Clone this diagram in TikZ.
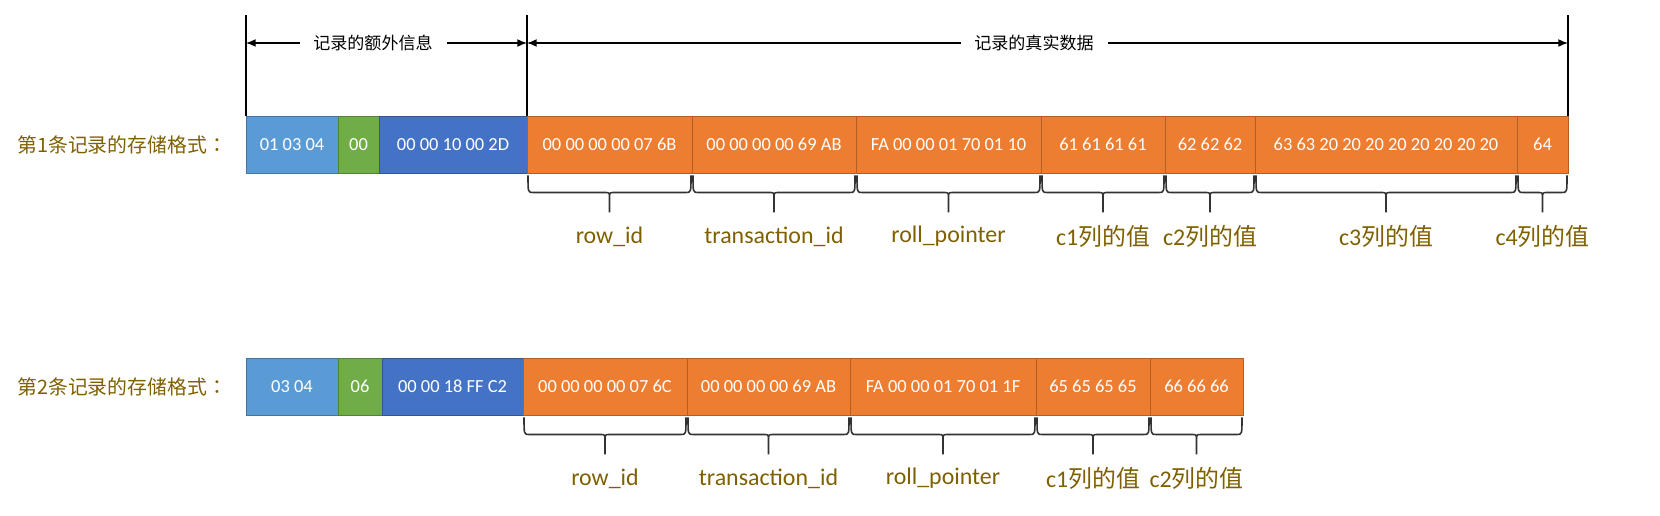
\documentclass[tikz,border=0pt]{standalone}
\usepackage{fontspec}
\setmainfont{Carlito}
\newfontfamily\cjkfont{Noto Sans CJK SC}
\newfontfamily\cjktc{Noto Sans CJK TC}
\usetikzlibrary{calc,arrows.meta}
\definecolor{lblue}{HTML}{5B9BD5}
\definecolor{lgreen}{HTML}{70AD47}
\definecolor{dblue}{HTML}{4472C4}
\definecolor{orng}{HTML}{ED7D31}
\definecolor{labgold}{HTML}{7F6000}
\begin{document}
\begin{tikzpicture}[x=0.02cm,y=-0.02cm,
  fld/.style={draw=#1!75!black,fill=#1,text=white,anchor=north west,inner sep=0pt,outer sep=0pt,
    minimum height=1.15cm,font=\fontsize{10.5}{12}\selectfont},
  rowlab/.style={anchor=west,inner sep=0pt,text=labgold,font=\cjkfont\fontsize{11.3}{13}\selectfont},
  toplab/.style={inner xsep=0.27cm,font=\cjkfont\fontsize{9.7}{11}\selectfont},
  vlab/.style={text=labgold,font=\fontsize{13.6}{15}\selectfont},
  dim/.style={line width=0.8pt},
  brc/.style={draw=black!80,line width=0.9pt}]
\useasboundingbox (0,0) rectangle (1660,516);
% record 1
\node[rowlab] (h1) at (17,145) {第1条记录的存储格式{\cjktc ：}};
\foreach \n/\a/\b/\c/\t in {r1a/246/338/lblue/{01 03 04}, r1b/338/379/lgreen/00,
  r1c/379/527/dblue/{00 00 10 00 2D}, r1d/527/692/orng/{00 00 00 00 07 6B},
  r1e/692/856/orng/{00 00 00 00 69 AB}, r1f/856/1041/orng/{FA 00 00 01 70 01 10},
  r1g/1041/1165/orng/{61 61 61 61}, r1h/1165/1255/orng/{62 62 62},
  r1i/1255/1517/orng/{63 63 20 20 20 20 20 20 20 20}, r1j/1517/1568/orng/64}
  \node[fld=\c,minimum width={(\b-\a)*0.02cm}] (\n) at (\a,116) {\t};
% record 2
\node[rowlab] (h2) at (17,387) {第2条记录的存储格式{\cjktc ：}};
\foreach \n/\a/\b/\c/\t in {r2a/246/338/lblue/{03 04}, r2b/338/382/lgreen/06,
  r2c/382/523/dblue/{00 00 18 FF C2}, r2d/523/687/orng/{00 00 00 00 07 6C},
  r2e/687/850/orng/{00 00 00 00 69 AB}, r2f/850/1036/orng/{FA 00 00 01 70 01 1F},
  r2g/1036/1150/orng/{65 65 65 65}, r2h/1150/1243/orng/{66 66 66}}
  \node[fld=\c,minimum width={(\b-\a)*0.02cm}] (\n) at (\a,358) {\t};
% braces under the columns
\foreach \n/\t in {r1d/row\_id, r1e/transaction\_id, r1f/roll\_pointer, r1g/c1{\cjkfont 列的值},
  r1h/c2{\cjkfont 列的值}, r1i/c3{\cjkfont 列的值}, r1j/c4{\cjkfont 列的值},
  r2d/row\_id, r2e/transaction\_id, r2f/roll\_pointer, r2g/c1{\cjkfont 列的值}, r2h/c2{\cjkfont 列的值}}{
  \draw[brc] ($(\n.south west)+(1,2)$) .. controls ($(\n.south west)+(1,19)$) .. ($(\n.south west)+(6,19)$)
    -- ($(\n.south)+(-5,19)$) .. controls ($(\n.south)+(0,19)$) .. ($(\n.south)+(0,25)$)
    .. controls ($(\n.south)+(0,19)$) .. ($(\n.south)+(5,19)$)
    -- ($(\n.south east)+(-6,19)$) .. controls ($(\n.south east)+(-1,19)$) .. ($(\n.south east)+(-1,2)$)
    ($(\n.south)+(0,25)$) -- ($(\n.south)+(0,39)$);
  \node[vlab] (l\n) at ($(\n.south)+(0,63)$) {\t};
}
% extra info / real data spans
\draw[dim] (r1a.north west) -- ++(0,-101) coordinate (v1);
\draw[dim] (r1d.north west) -- ++(0,-101) coordinate (v2);
\draw[dim] (r1j.north east) -- ++(0,-101) coordinate (v3);
\node[toplab] (e1) at (373,43) {记录的额外信息};
\node[toplab] (e2) at (1034,43) {记录的真实数据};
\foreach \s/\v in {e1/v1, e1/v2, e2/v2, e2/v3}
  \draw[dim,-{Latex[length=5.5pt,width=4.5pt]}] (\s) -- (\s -| \v);
\end{tikzpicture}
\end{document}
